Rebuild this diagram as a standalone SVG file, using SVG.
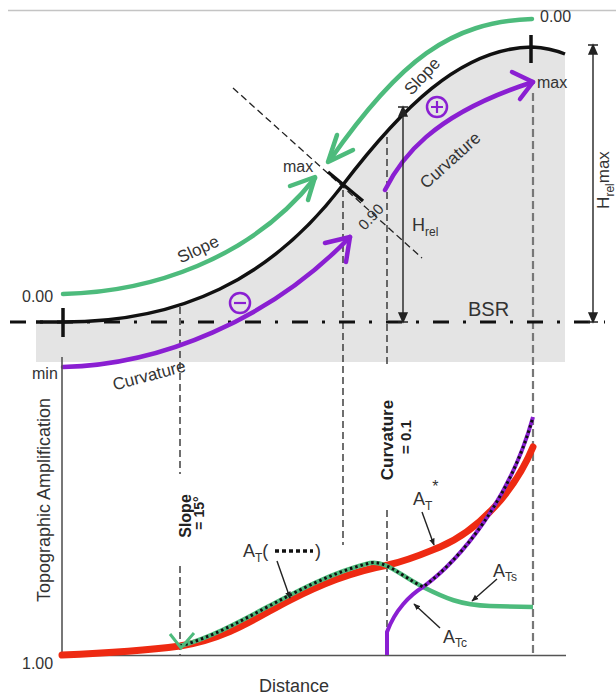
<svg xmlns="http://www.w3.org/2000/svg" width="616" height="697" viewBox="0 0 616 697" font-size="16">
<defs>
<style>
text{font-family:"Liberation Sans",Arial,sans-serif;fill:#333}
.b{font-weight:bold;fill:#222}
.grn{fill:none;stroke:#4dbb7c;stroke-width:4.5;stroke-linecap:round;stroke-linejoin:round}
.pur{fill:none;stroke:#8a1fd2;stroke-width:4.5;stroke-linecap:round;stroke-linejoin:round}
.dash{fill:none;stroke:#222;stroke-width:1.3;stroke-dasharray:7 4}
.gdash{fill:none;stroke:#777;stroke-width:2.2;stroke-dasharray:8 4}
.thin{fill:none;stroke:#222;stroke-width:1.4}
.dim{fill:#222;stroke:#222;stroke-width:1.4}
</style>
<marker id="ah" viewBox="0 0 10 10" refX="9" refY="5" markerWidth="7" markerHeight="7" orient="auto" markerUnits="userSpaceOnUse"><path d="M0,1 L10,5 L0,9 Z" fill="#222"/></marker>
</defs>
<rect width="616" height="697" fill="#fff"/>
<line x1="8" y1="10.5" x2="616" y2="10.5" stroke="#c4c4c4" stroke-width="1.5"/>

<g id="terrain">
<path d="M36,322 L63,322 C180,322 270,280 342,186 C400,110 460,48 532,47 Q550,48 565,54 L565,362 L36,362 Z" fill="#e4e4e4"/>
</g>

<g id="guides">
<line class="dash" x1="180" y1="307" x2="180" y2="474"/>
<line class="dash" x1="180" y1="566" x2="180" y2="655"/>
<line class="dash" x1="343" y1="190" x2="343" y2="545"/>
<line class="dash" x1="387" y1="137" x2="387" y2="366"/>
<line class="dash" x1="387" y1="510" x2="387" y2="655"/>
<line class="gdash" x1="533" y1="93" x2="533" y2="655"/>
<line class="dash" x1="233" y1="88" x2="422" y2="258" stroke-width="1.1"/>
</g>

<g id="bsr">
<line x1="10" y1="322" x2="605" y2="322" stroke="#111" stroke-width="3" stroke-dasharray="16 14 3 14"/>
<text x="468" y="316" font-size="20">BSR</text>
</g>

<g id="profile">
<path d="M36,322 L63,322 C180,322 270,280 342,186 C400,110 460,48 532,47 Q550,48 565,54" fill="none" stroke="#111" stroke-width="3.5"/>
<line x1="63" y1="308" x2="63" y2="337" stroke="#111" stroke-width="3.5"/>
<line x1="531" y1="35" x2="531" y2="63" stroke="#111" stroke-width="3.5"/>
<line x1="328" y1="172" x2="363" y2="201" stroke="#111" stroke-width="3.5"/>
<text x="283" y="172">max</text>
<text transform="translate(371,217) rotate(-47)" text-anchor="middle" y="5" font-size="15">0.90</text>
</g>

<g id="slope-upper">
<path class="grn" d="M532,19 C450,22 400,60 330,160"/>
<polyline class="grn" points="353,150 328,162 337,135"/>
<text x="540" y="22">0.00</text>
<text transform="translate(422,76) rotate(-47)" text-anchor="middle" y="6" font-size="17">Slope</text>
</g>

<g id="slope-lower">
<path class="grn" d="M63,294 C150,292 250,260 315,178"/>
<polyline class="grn" points="290,186 315,177 308,200"/>
<text x="22" y="302">0.00</text>
<text transform="translate(198,249) rotate(-25)" text-anchor="middle" y="6" font-size="17">Slope</text>
</g>

<g id="curvature-upper">
<path class="pur" d="M385,190 C400,160 430,115 533,82"/>
<polyline class="pur" points="512,72 533,82 520,99"/>
<circle cx="437" cy="107" r="10" fill="none" stroke="#8a1fd2" stroke-width="2.5"/>
<path d="M431,107 H443 M437,101 V113" stroke="#8a1fd2" stroke-width="2.2"/>
<text x="537" y="88">max</text>
<text transform="translate(450,160) rotate(-42)" text-anchor="middle" y="6" font-size="17">Curvature</text>
</g>

<g id="curvature-lower">
<path class="pur" d="M63,367 C160,365 270,320 350,237"/>
<polyline class="pur" points="325,243 350,237 346,262"/>
<circle cx="240" cy="303" r="10" fill="none" stroke="#8a1fd2" stroke-width="2.5"/>
<path d="M234,303 H246" stroke="#8a1fd2" stroke-width="2.2"/>
<text x="32" y="379">min</text>
<text transform="translate(149,375) rotate(-15)" text-anchor="middle" y="6" font-size="17">Curvature</text>
</g>

<g id="hrel">
<line class="thin" x1="403" y1="108" x2="403" y2="321"/>
<path class="dim" d="M398,107 H408 M403,107 L399,116 H407 Z"/>
<path class="dim" d="M398,322 H408 M403,322 L399,313 H407 Z"/>
<text x="412" y="231" font-size="18">H<tspan font-size="12" dy="5">rel</tspan></text>
</g>

<g id="hrelmax">
<line class="thin" x1="593" y1="46" x2="593" y2="321"/>
<path class="dim" d="M588,45 H598 M593,45 L589,54 H597 Z"/>
<path class="dim" d="M588,322 H598 M593,322 L589,313 H597 Z"/>
<text transform="translate(609,180) rotate(-90)" text-anchor="middle" font-size="17">H<tspan font-size="12" dy="5">rel</tspan><tspan dy="-5">max</tspan></text>
</g>

<g id="axes">
<line x1="62" y1="357" x2="62" y2="656" stroke="#555" stroke-width="1.6"/>
<line x1="62" y1="655.5" x2="566" y2="655.5" stroke="#555" stroke-width="1.6"/>
<text x="22" y="669" font-size="16">1.00</text>
<text x="294" y="692" text-anchor="middle" font-size="18">Distance</text>
<text transform="translate(50,500) rotate(-90)" text-anchor="middle" font-size="18">Topographic Amplification</text>
</g>

<g id="thresholds">
<text class="b" transform="translate(191,516) rotate(-90)" text-anchor="middle" font-size="16">Slope</text>
<text class="b" transform="translate(204,513) rotate(-90)" text-anchor="middle" font-size="14">= 15°</text>
<text class="b" transform="translate(393,440) rotate(-90)" text-anchor="middle" font-size="17">Curvature</text>
<text class="b" transform="translate(411,437) rotate(-90)" text-anchor="middle" font-size="15">= 0.1</text>
</g>

<g id="curves">
<path d="M62,655 C110,653 150,650 180,646 C230,638 260,615 290,600 C320,585 350,572 388,565 C410,560 425,553 440,547 C480,530 515,490 533,447" fill="none" stroke="#ee2a12" stroke-width="7" stroke-linecap="round"/>
<path d="M180,646 C240,630 300,580 370,563 C385,560 400,575 423,587 C445,598 460,605 490,606 L533,607" fill="none" stroke="#4dbb7c" stroke-width="4.5"/>
<path d="M387,655 L387,632 C395,610 410,595 423,587 C460,560 510,500 533,417" fill="none" stroke="#8a1fd2" stroke-width="4"/>
<path d="M180,646 C240,630 300,580 370,563 C385,560 400,575 423,587 C460,560 510,500 533,417" fill="none" stroke="#111" stroke-width="3" stroke-dasharray="2.5 3"/>
<polyline points="170,634 181,648 194,633" fill="none" stroke="#4dbb7c" stroke-width="3"/>
</g>

<g id="labels-lower">
<text x="243" y="557" font-size="18">A<tspan font-size="12" dy="5">T</tspan><tspan dy="-5">(</tspan></text>
<line x1="275" y1="551" x2="313" y2="551" stroke="#111" stroke-width="3.5" stroke-dasharray="4 3"/>
<text x="315" y="557" font-size="18">)</text>
<line class="thin" x1="277" y1="561" x2="290" y2="598" marker-end="url(#ah)"/>

<text x="413" y="505" font-size="18">A<tspan font-size="12" dy="5">T</tspan><tspan font-size="16" dy="-18">*</tspan></text>
<line class="thin" x1="422" y1="512" x2="434" y2="545" marker-end="url(#ah)"/>

<text x="493" y="577" font-size="18">A<tspan font-size="12" dy="4">Ts</tspan></text>
<line class="thin" x1="497" y1="579" x2="472" y2="601" marker-end="url(#ah)"/>

<text x="443" y="643" font-size="18">A<tspan font-size="12" dy="4">Tc</tspan></text>
<line class="thin" x1="440" y1="628" x2="414" y2="604" marker-end="url(#ah)"/>
</g>
</svg>
